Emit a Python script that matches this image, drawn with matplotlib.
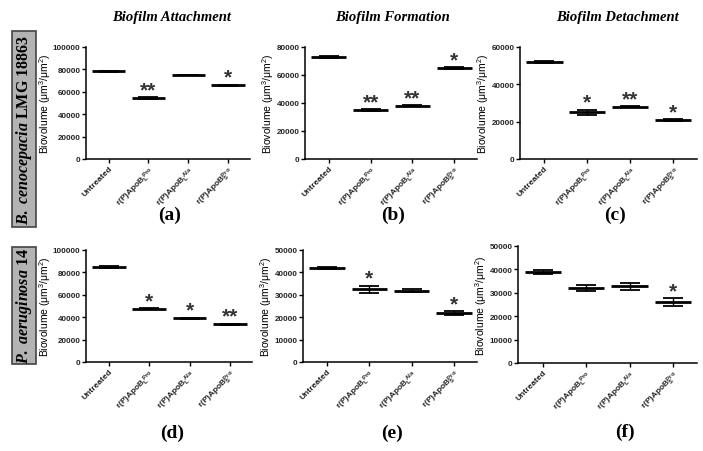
import matplotlib
matplotlib.use('Agg')
import matplotlib.pyplot as plt
from matplotlib.patches import Rectangle

plt.rcParams['font.family'] = 'Liberation Sans'
plt.rcParams['font.weight'] = 'bold'
plt.rcParams['mathtext.default'] = 'regular'
plt.rcParams['mathtext.fontset'] = 'custom'
plt.rcParams['mathtext.it'] = 'Liberation Serif:italic:bold'
plt.rcParams['mathtext.rm'] = 'Liberation Serif:bold'

W, H = 703, 452

# data
categories = ['Untreated', r'r(P)ApoB$_{L}^{\ Pro}$', r'r(P)ApoB$_{L}^{\ Ala}$', r'r(P)ApoB$_{S}^{Pro}$']

attach_bc = [78500, 54500, 75000, 66000]
attach_bc_err = [400, 500, 400, 500]
form_bc = [73000, 35000, 38000, 65000]
form_bc_err = [600, 600, 400, 400]
detach_bc = [52000, 25000, 28000, 21000]
detach_bc_err = [400, 1400, 400, 400]

attach_pa = [85000, 47500, 39000, 33500]
attach_pa_err = [1000, 500, 600, 800]
form_pa = [42000, 32500, 31800, 21700]
form_pa_err = [500, 1600, 700, 900]
detach_pa = [38800, 32200, 32700, 26000]
detach_pa_err = [900, 1300, 1500, 1700]

stars_attach_bc = ['', '**', '', '*']
stars_form_bc = ['', '**', '**', '*']
stars_detach_bc = ['', '*', '**', '*']
stars_attach_pa = ['', '*', '*', '**']
stars_form_pa = ['', '*', '', '*']
stars_detach_pa = ['', '', '', '*']

ymax = [100000, 80000, 60000, 100000, 50000, 50000]
ystep = [20000, 20000, 20000, 20000, 10000, 10000]

titles = ['Biofilm Attachment', 'Biofilm Formation', 'Biofilm Detachment']
panel_letters = ['(a)', '(b)', '(c)', '(d)', '(e)', '(f)']

fig = plt.figure(figsize=(W / 100, H / 100), dpi=100)


def add_ax(left, right, top, bottom):
    return fig.add_axes([left / W, 1 - bottom / H, (right - left) / W, (bottom - top) / H])


boxes = [(86, 250, 48, 160), (305, 477, 48, 160), (520, 697, 48, 160),
         (86, 252, 251, 363), (303, 477, 251, 363), (518, 697, 247, 364)]
means = [attach_bc, form_bc, detach_bc, attach_pa, form_pa, detach_pa]
errs = [attach_bc_err, form_bc_err, detach_bc_err, attach_pa_err, form_pa_err, detach_pa_err]
stars = [stars_attach_bc, stars_form_bc, stars_detach_bc, stars_attach_pa, stars_form_pa, stars_detach_pa]

for i in range(6):
    ax = add_ax(*boxes[i])
    x = range(len(categories))
    for j in x:
        ax.hlines(means[i][j], j - 0.42, j + 0.42, color='black', lw=2.0)
        ax.errorbar(j, means[i][j], yerr=errs[i][j], color='black', lw=1.0,
                    capsize=7, capthick=1.3, fmt='none')
        if stars[i][j]:
            ax.annotate(stars[i][j], (j, means[i][j] + errs[i][j]), xytext=(0, 1.5),
                        textcoords='offset points', ha='center', va='baseline',
                        fontsize=15, color='#333333', fontweight='bold')
    ax.set_xlim(-0.57, 3.55)
    ax.set_ylim(0, ymax[i])
    ax.set_yticks(range(0, ymax[i] + 1, ystep[i]))
    ax.set_xticks(list(x))
    ax.set_xticklabels(categories, rotation=45, ha='right', rotation_mode='anchor',
                       fontsize=6)
    ax.tick_params(axis='y', labelsize=5.8, length=3, width=1, pad=1, labelcolor='#222222')
    ax.tick_params(axis='x', length=3, width=1, pad=1, labelcolor='#222222')
    ax.spines['top'].set_visible(False)
    ax.spines['right'].set_visible(False)
    ax.spines['left'].set_linewidth(1.1)
    ax.spines['bottom'].set_linewidth(1.1)
    ax.set_ylabel('Biovolume (\u03bcm$^3$/\u03bcm$^2$)', fontsize=7.5, labelpad=0)

# column titles
for x_c, t in zip([172, 393, 618], titles):
    fig.text(x_c / W, 1 - 17 / H, t, ha='center', va='center', fontsize=10.5,
             family='Liberation Serif', style='italic', weight='bold')

# panel letters
for (x_c, y_c), lab in zip([(170, 215), (393, 215), (615, 215), (172, 433), (392, 433), (625, 432)],
                           panel_letters):
    fig.text(x_c / W, 1 - y_c / H, lab, ha='center', va='center', fontsize=14,
             family='Liberation Serif', weight='bold')

# row labels in grey boxes
for (top, bot), lab in zip([(32, 228), (248, 365)],
                           [r'$\mathit{B.\ cenocepacia}$ LMG 18863', r'$\mathit{P.\ aeruginosa}$ 14']):
    fig.patches.append(Rectangle((12 / W, 1 - bot / H), 24 / W, (bot - top) / H,
                                 transform=fig.transFigure, facecolor='#b3b3b3',
                                 edgecolor='#444444', lw=1.2))
    fig.text(24 / W, 1 - (top + bot) / 2 / H, lab, rotation=90, ha='center', va='center',
             fontsize=11.5, family='Liberation Serif', weight='bold')

fig.savefig('out.png', dpi=100)
